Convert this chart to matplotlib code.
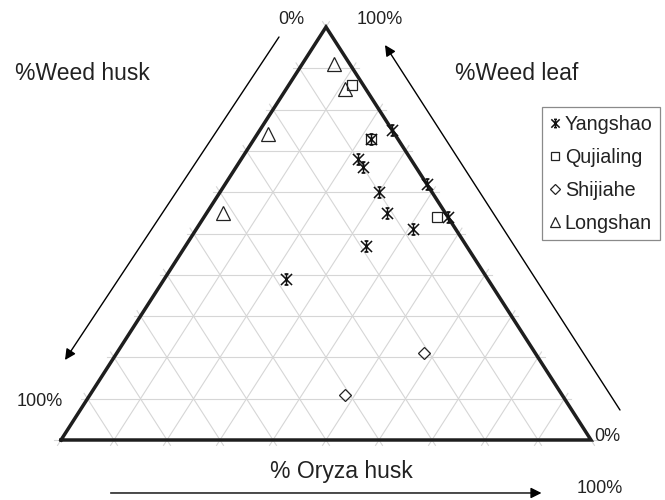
import numpy as np
import matplotlib
matplotlib.use("Agg")
import matplotlib.pyplot as plt
from matplotlib.path import Path

plt.rcParams['font.family'] = ['Liberation Sans', 'DejaVu Sans']

# ternary data, percentages (weed husk, oryza husk, weed leaf)
yangshao_husk = [5, 10, 10, 10, 11, 8, 19, 38, 0, 0, 0]
yangshao_oryza = [22, 22, 24, 30, 34, 41, 34, 23, 25, 38, 46]
yangshao_leaf = [73, 68, 66, 60, 55, 51, 47, 39, 75, 62, 54]

qujialing_husk = [2, 5, 2]
qujialing_oryza = [12, 22, 44]
qujialing_leaf = [86, 73, 54]

shijiahe_husk = [21, 41]
shijiahe_oryza = [58, 48]
shijiahe_leaf = [21, 11]

longshan_husk = [3, 4, 24, 42]
longshan_oryza = [6, 11, 2, 3]
longshan_leaf = [91, 85, 74, 55]

grid_ticks = [0, 10, 20, 30, 40, 50, 60, 70, 80, 90]


def toXY(husk, oryza, leaf):
    oryza = np.asarray(oryza, dtype=float)
    leaf = np.asarray(leaf, dtype=float)
    return oryza + leaf / 2.0, leaf


def gridLine(ax, p1, p2):
    x, y = toXY([p1[1], p2[1]], [p1[1], p2[1]], [p1[2], p2[2]])
    ax.plot(x, y, color='#d6d6d6', lw=0.8, zorder=1)


fig = plt.figure(figsize=(6.65, 5.0), dpi=100)
ax = fig.add_axes([0, 0, 1, 1])
ax.set_xlim(-11.509, 113.962)
ax.set_ylim(-14.528, 106.538)
ax.axis('off')

# grid (lines slightly run past the edges, like tick marks)
e = 1.3
for k in grid_ticks:
    gridLine(ax, (100 - k + e, -e, k), (-e, 100 - k + e, k))
    gridLine(ax, (100 - k + e, k, -e), (-e, k, 100 - k + e))
    gridLine(ax, (k, 100 - k + e, -e), (k, -e, 100 - k + e))

# triangle frame
fx, fy = toXY([100, 0, 0, 100], [0, 100, 0, 0], [0, 0, 100, 0])
ax.plot(fx, fy, color='#1e1e1e', lw=2.5, solid_joinstyle='miter', zorder=2)

# excel-like star marker
star = Path([(-1, -1), (1, 1), (-1, 1), (1, -1), (0, -1), (0, 1),
             (-0.35, 1), (0.35, 1), (-0.35, -1), (0.35, -1)],
            [Path.MOVETO, Path.LINETO, Path.MOVETO, Path.LINETO, Path.MOVETO, Path.LINETO,
             Path.MOVETO, Path.LINETO, Path.MOVETO, Path.LINETO])

x, y = toXY(yangshao_husk, yangshao_oryza, yangshao_leaf)
ax.plot(x, y, ls='none', marker=star, ms=8, mew=1.1, mec='#111111', mfc='none',
        label='Yangshao', zorder=4)
x, y = toXY(qujialing_husk, qujialing_oryza, qujialing_leaf)
ax.plot(x, y, ls='none', marker='s', ms=7, mew=0.9, mec='#222222', mfc='none',
        label='Qujialing', zorder=3)
x, y = toXY(shijiahe_husk, shijiahe_oryza, shijiahe_leaf)
ax.plot(x, y, ls='none', marker='D', ms=6.5, mew=0.9, mec='#222222', mfc='none',
        label='Shijiahe', zorder=3)
x, y = toXY(longshan_husk, longshan_oryza, longshan_leaf)
ax.plot(x, y, ls='none', marker='^', ms=10, mew=0.9, mec='#222222', mfc='none',
        label='Longshan', zorder=3)

# axis labels and arrows
txt = dict(color='#222222')
ax.text(-8.68, 88.86, '%Weed husk', fontsize=16.5, ha='left', va='center', **txt)
ax.text(74.34, 88.86, '%Weed leaf', fontsize=16.5, ha='left', va='center', **txt)
ax.text(52.83, -7.6, '% Oryza husk', fontsize=16.5, ha='center', va='center', **txt)
ax.text(43.4, 101.7, '0%', fontsize=13, ha='center', va='center', **txt)
ax.text(55.85, 101.7, '100%', fontsize=13, ha='left', va='center', **txt)
ax.text(-4.06, 9.27, '100%', fontsize=13, ha='center', va='center', **txt)
ax.text(100.57, 0.8, '0%', fontsize=13, ha='left', va='center', **txt)
ax.text(101.7, -11.7, '100%', fontsize=13, ha='center', va='center', **txt)

arrow = dict(arrowstyle='-|>', lw=1.0, color='black', mutation_scale=16,
             shrinkA=0, shrinkB=0)
ax.annotate('', xy=(90.66, -12.83), xytext=(9.36, -12.83), arrowprops=arrow)
ax.annotate('', xy=(0.755, 19.37), xytext=(41.13, 97.58), arrowprops=arrow)
ax.annotate('', xy=(61.13, 95.64), xytext=(105.47, 7.26), arrowprops=arrow)

leg = fig.legend(loc='upper left', bbox_to_anchor=(0.8146, 0.7854), fontsize=14.2,
                 frameon=True, fancybox=False, edgecolor='#8a8a8a', framealpha=1,
                 borderaxespad=0, handlelength=0.55, handletextpad=0.22,
                 labelspacing=0.7, borderpad=0.4, markerscale=0.75)
leg.get_frame().set_linewidth(0.9)
for t in leg.get_texts():
    t.set_color('#222222')

fig.savefig('out.png', dpi=100)
